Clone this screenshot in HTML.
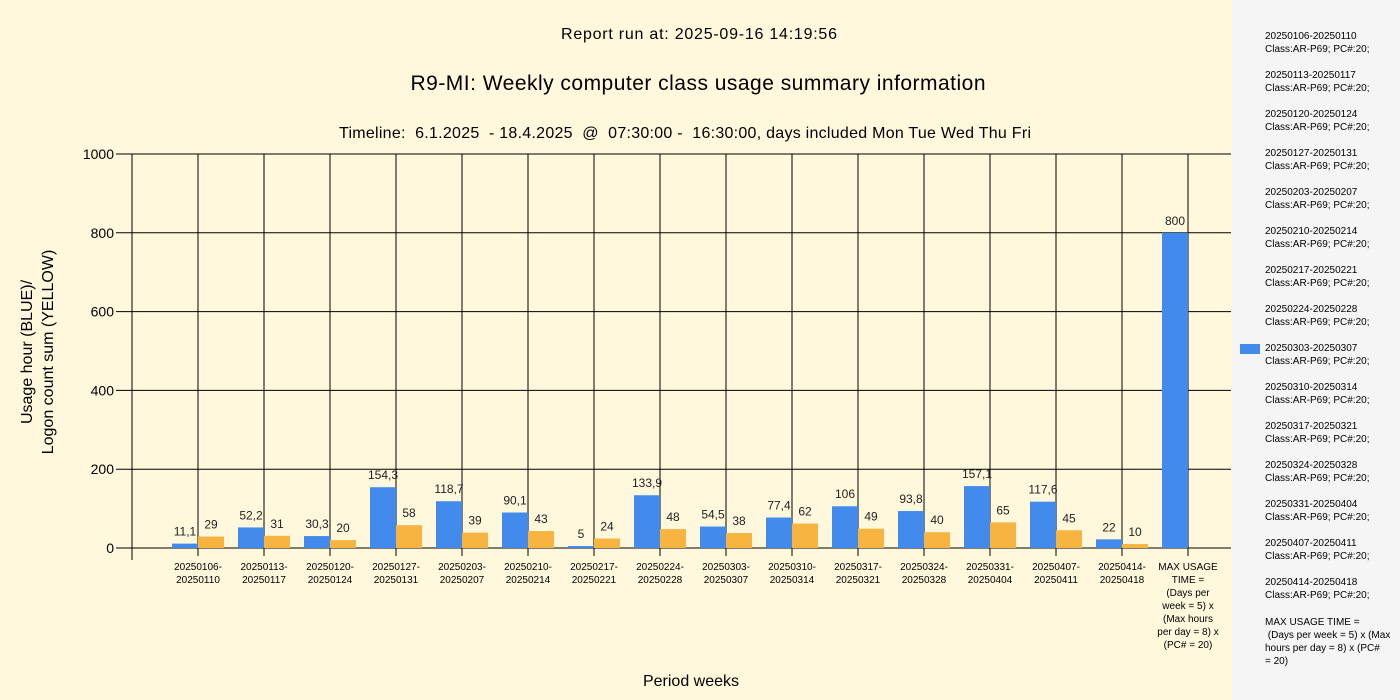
<!DOCTYPE html>
<html><head><meta charset="utf-8"><style>
body{margin:0;width:1400px;height:700px;overflow:hidden;background:#fff8dc;font-family:"Liberation Sans",sans-serif}
svg{display:block}
</style></head><body>
<svg id="chart" width="1400" height="700">
<rect x="0" y="0" width="1232" height="700" fill="#fff8dc"/>
<rect x="1232" y="0" width="168" height="700" fill="#f5f5f5"/>
<text x="699" y="39" text-anchor="middle" font-size="16" textLength="276" fill="#000">Report run at: 2025-09-16 14:19:56</text>
<text x="698" y="90" text-anchor="middle" font-size="21" textLength="575" fill="#000">R9-MI: Weekly computer class usage summary information</text>
<text x="685" y="138" text-anchor="middle" font-size="16" textLength="692" fill="#000" xml:space="preserve">Timeline:  6.1.2025  - 18.4.2025  @  07:30:00 -  16:30:00, days included Mon Tue Wed Thu Fri</text>
<text transform="translate(32,352) rotate(-90)" text-anchor="middle" font-size="16"><tspan x="0" y="0">Usage hour (BLUE)/</tspan><tspan x="0" y="21">Logon count sum (YELLOW)</tspan></text>
<text x="691" y="686" text-anchor="middle" font-size="16">Period weeks</text>
<g id="grid"></g><g id="bars"></g><g id="xlabels"></g><g id="legend"></g>
</svg>
<script>
const categories=["20250106-|20250110","20250113-|20250117","20250120-|20250124","20250127-|20250131","20250203-|20250207","20250210-|20250214","20250217-|20250221","20250224-|20250228","20250303-|20250307","20250310-|20250314","20250317-|20250321","20250324-|20250328","20250331-|20250404","20250407-|20250411","20250414-|20250418","MAX USAGE|TIME =|(Days per|week = 5) x|(Max hours|per day = 8) x|(PC# = 20)"];
const usageHours=[11.1,52.2,30.3,154.3,118.7,90.1,5,133.9,54.5,77.4,106,93.8,157.1,117.6,22,800];
const logonCounts=[29,31,20,58,39,43,24,48,38,62,49,40,65,45,10,null];
const yTicks=[0,200,400,600,800,1000];
const legendItems=["20250106-20250110","20250113-20250117","20250120-20250124","20250127-20250131","20250203-20250207","20250210-20250214","20250217-20250221","20250224-20250228","20250303-20250307","20250310-20250314","20250317-20250321","20250324-20250328","20250331-20250404","20250407-20250411","20250414-20250418"];
const NS="http://www.w3.org/2000/svg";
const L=132,R=1231,T=154,B=548,step=66;
const y=v=>B-(v/1000)*(B-T);
const x=i=>L+step*(i+1);
function mk(tag,attrs,parent,text){const e=document.createElementNS(NS,tag);for(const k in attrs)e.setAttribute(k,attrs[k]);if(text!==undefined)e.textContent=text;parent.appendChild(e);return e;}
const fmt=v=>String(v).replace('.',',');
const grid=document.getElementById('grid');
yTicks.forEach(t=>{
 const l=mk('line',{x1:L-16,x2:R,y1:y(t),y2:y(t),stroke:'#000','stroke-width':1},grid);
 
 
 const tx=mk('text',{x:L-18,y:y(t)+5,'text-anchor':'end','font-size':14},grid,t);
 
 
});
const ax=mk('line',{x1:L,x2:L,y1:T,y2:B+12,stroke:'#000'},grid);


const bars=document.getElementById('bars'),xl=document.getElementById('xlabels');
categories.forEach((c,i)=>{
 const cx=x(i);
 const g=mk('line',{x1:cx,x2:cx,y1:T,y2:B+8,stroke:'#000'},grid);
 
 
 const u=usageHours[i];
 const b=mk('rect',{x:cx-26,y:y(u),width:26,height:B-y(u),fill:'#428bec'},bars);
 
 
 const bl=mk('text',{x:cx-13,y:y(u)-8,'text-anchor':'middle','font-size':12,fill:'#222'},bars,fmt(u));
 
 
 const o=logonCounts[i];
 if(o!==null){
  const ob=mk('rect',{x:cx,y:y(o),width:26,height:B-y(o),fill:'#f8b440'},bars);
  
  
  const ol=mk('text',{x:cx+13,y:y(o)-8,'text-anchor':'middle','font-size':12,fill:'#222'},bars,fmt(o));
  
  
 }
 const t=mk('text',{'text-anchor':'middle','font-size':10,fill:'#000'},xl);
 
 
 c.split('|').forEach((s,k)=>mk('tspan',{x:cx,y:570+k*13},t,s));
});
const lg=document.getElementById('legend');
legendItems.forEach((s,i)=>{
 const yy=39+i*39;
 const t=mk('text',{'font-size':10,fill:'#000'},lg);
 
 
 mk('tspan',{x:1265,y:yy},t,s);
 mk('tspan',{x:1265,y:yy+13},t,'Class:AR-P69; PC#:20;');
});
const sw=mk('rect',{x:1240,y:344,width:20,height:10,fill:'#428bec'},lg);


const mt=mk('text',{'font-size':10,fill:'#000'},lg);


["MAX USAGE TIME =","\u00a0(Days per week = 5) x (Max","hours per day = 8) x (PC#","= 20)"].forEach((s,k)=>mk('tspan',{x:1265,y:625+k*13},mt,s));
</script>
</body></html>
